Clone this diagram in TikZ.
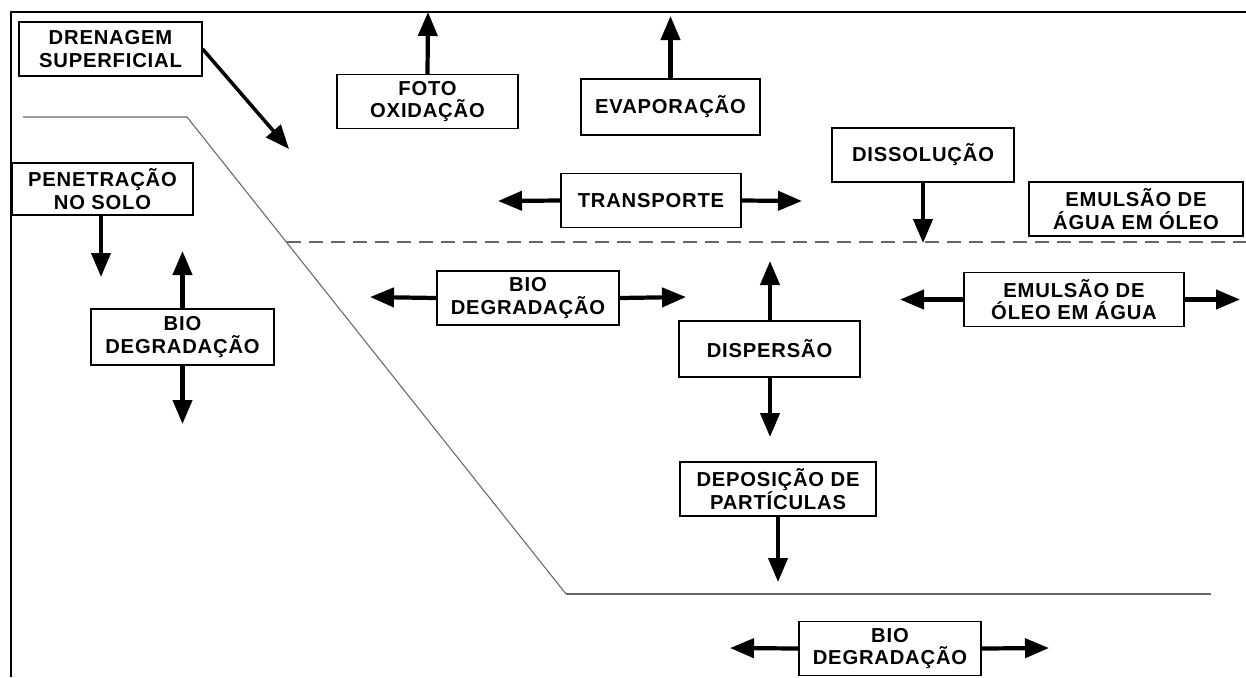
\documentclass[tikz,border=0pt]{standalone}
\usepackage{fontspec}
\newfontfamily\boxfont{Liberation Sans}[LetterSpace=4]
\usetikzlibrary{arrows.meta}
\tikzset{>={Triangle[length=0.48cm,width=0.38cm]},
  box/.style={draw, line width=0.7pt, align=center, inner sep=0pt,
    minimum width=3.62cm, minimum height=1.08cm,
    font={\boxfont\bfseries\fontsize{11.5}{12.8}\selectfont}},
  flow/.style={->, line width=2.4pt},
  ground/.style={gray!80!black, line width=0.6pt}}

\begin{document}
\begin{tikzpicture}[x=0.02cm, y=-0.02cm]
\useasboundingbox (0,0) rectangle (1246,677);

% frame
\draw [line width=1.2pt] (11,677) -- (11,12) -- (1246,12);

% ground profile and water surface
\draw [ground] (23,117) -- (187,117) -- (566,594);
\draw [ground, line width=0.9pt] (566,594) -- (1211,594);
\draw [ground, dash pattern=on 0.28cm off 0.16cm] (287,242) -- (1246,242);

% processes
\node [box, minimum width=3.66cm] (D) at (110.5,49) {DRENAGEM\\SUPERFICIAL};
\node [box] (F) at (427.5,101.5) {FOTO\\OXIDAÇÃO};
\node [box, minimum width=3.58cm, minimum height=1.12cm] (Ev) at (670.5,107) {EVAPORAÇÃO};
\node [box, minimum width=3.6cm] (T) at (651,200.5) {TRANSPORTE};
\node [box, minimum width=3.64cm] (Ds) at (923,155) {DISSOLUÇÃO};
\node [box, minimum width=4.28cm] (Ea) at (1136,209) {EMULSÃO DE\\ÁGUA EM ÓLEO};
\node [box, minimum width=4.4cm] (Eo) at (1074,299.5) {EMULSÃO DE\\ÓLEO EM ÁGUA};
\node [box, minimum height=1.04cm] (P) at (102.5,189) {PENETRAÇÃO\\NO SOLO};
\node [box, minimum width=3.66cm, minimum height=1.12cm] (B1) at (182.5,337) {BIO\\DEGRADAÇÃO};
\node [box, minimum width=3.64cm] (B2) at (528,298) {BIO\\DEGRADAÇÃO};
\node [box, minimum height=1.12cm] (Dp) at (769.5,349) {DISPERSÃO};
\node [box, minimum width=3.92cm] (Dep) at (778,489) {DEPOSIÇÃO DE\\PARTÍCULAS};
\node [box, minimum width=3.64cm] (B3) at (890,648.5) {BIO\\DEGRADAÇÃO};

% free arrow ends
\coordinate (d1) at (289,149);
\coordinate (f1) at (428,12);
\coordinate (ev1) at (670.5,16);
\coordinate (t1) at (498,201);
\coordinate (t2) at (802,201);
\coordinate (ds1) at (923,243);
\coordinate (eo1) at (900,299.5);
\coordinate (eo2) at (1240,299.5);
\coordinate (p1) at (101,277);
\coordinate (b11) at (182.5,251);
\coordinate (b12) at (182.5,424);
\coordinate (b21) at (370,297);
\coordinate (b22) at (686,297);
\coordinate (dp1) at (770,261);
\coordinate (dp2) at (770,437);
\coordinate (dep1) at (778,582);
\coordinate (b31) at (730,648);
\coordinate (b32) at (1049,648);

\draw [flow, line width=2pt] (D.east) -- (d1);
\draw [flow] (F.north) -- (f1);
\draw [flow] (Ev.north) -- (ev1);
\draw [flow] (T.west) -- (t1);
\draw [flow] (T.east) -- (t2);
\draw [flow] (Ds.south) -- (ds1);
\draw [flow] (Eo.west) -- (eo1);
\draw [flow] (Eo.east) -- (eo2);
\draw [flow] (P.south -| p1) -- (p1);
\draw [flow] (B1.north) -- (b11);
\draw [flow] (B1.south) -- (b12);
\draw [flow] (B2.west) -- (b21);
\draw [flow] (B2.east) -- (b22);
\draw [flow] (Dp.north -| dp1) -- (dp1);
\draw [flow] (Dp.south -| dp2) -- (dp2);
\draw [flow] (Dep.south) -- (dep1);
\draw [flow] (B3.west) -- (b31);
\draw [flow] (B3.east) -- (b32);

\end{tikzpicture}
\end{document}
